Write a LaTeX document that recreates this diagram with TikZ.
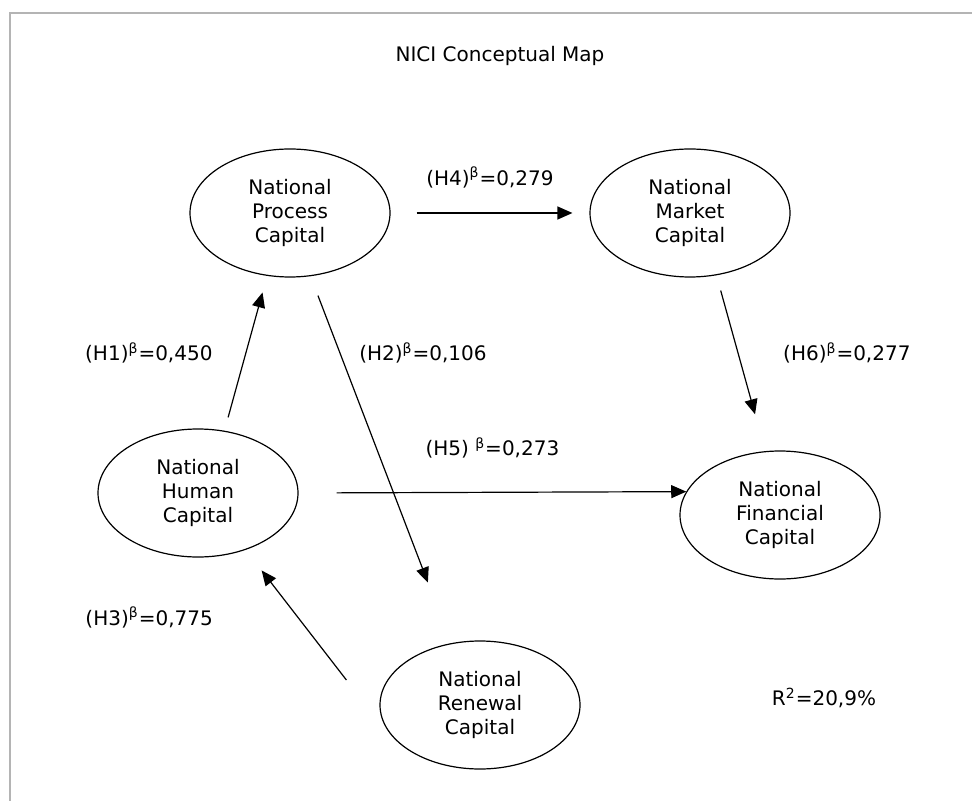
\documentclass[tikz,border=0pt]{standalone}
\usepackage{fontspec}
\setmainfont{DejaVu Sans}
\usetikzlibrary{shapes.geometric, arrows.meta, positioning, calc}
\definecolor{framegray}{RGB}{180,180,180}
\tikzstyle{concept} = [ellipse, draw=black, line width=0.6pt, minimum width=100pt,
                       minimum height=64pt, inner sep=0pt, align=center, on grid]
\tikzstyle{arrow}   = [line width=0.6pt, -{Triangle[length=7.5pt,width=6.5pt]}]
\tikzstyle{coef}    = [font=\normalsize]

\begin{document}
\begin{tikzpicture}[x=0.5pt, y=-0.5pt]
  \useasboundingbox (0,0) rectangle (972,801);
  \draw[framegray, line width=1pt] (10,801) -- (10,13) -- (972,13);

  \node (title) at (500,56) {NICI Conceptual Map};

  \node (process)   [concept] at (290,213) {National\\Process\\Capital};
  \node (market)    [concept, right=200pt of process] {National\\Market\\Capital};
  \node (human)     [concept, below left=140pt and 46pt of process] {National\\Human\\Capital};
  \node (financial) [concept, below right=151pt and 45pt of market] {National\\Financial\\Capital};
  \node (renewal)   [concept, below right=106pt and 141pt of human] {National\\Renewal\\Capital};
  \node (rsq)       [on grid, below right=91.5pt and 22pt of financial] {R\textsuperscript{2}=20,9\%};

  \coordinate (h3tail) at ($(renewal.west)+(-16.5pt,12.5pt)$);

  \draw[arrow, shorten <=6.9pt, shorten >=8.6pt] (human.67) -- node[coef, pos=0.5, left=13pt]{(H1)\textsuperscript{β}=0,450} (process.250);
  \draw[arrow, shorten <=10.4pt, shorten >=32.5pt] (process.288) -- node[coef, pos=0.21, right=6pt]{(H2)\textsuperscript{β}=0,106} (renewal.115);
  \draw[arrow, shorten >=13pt] (h3tail) -- node[coef, pos=0.48, left=39pt]{(H3)\textsuperscript{β}=0,775} (human.310);
  \draw[arrow, shorten <=13pt, shorten >=8.5pt] (process.east) -- node[coef, above=9pt]{(H4)\textsuperscript{β}=0,279} (market.west);
  \draw[arrow, shorten <=19pt] (human.east) -- node[coef, above=13.5pt]{(H5) \textsuperscript{β}=0,273} (financial.166);
  \draw[arrow, shorten <=7.9pt, shorten >=19.1pt] (market.293) -- node[coef, pos=0.44, right=19pt]{(H6)\textsuperscript{β}=0,277} (financial.103);
\end{tikzpicture}
\end{document}
